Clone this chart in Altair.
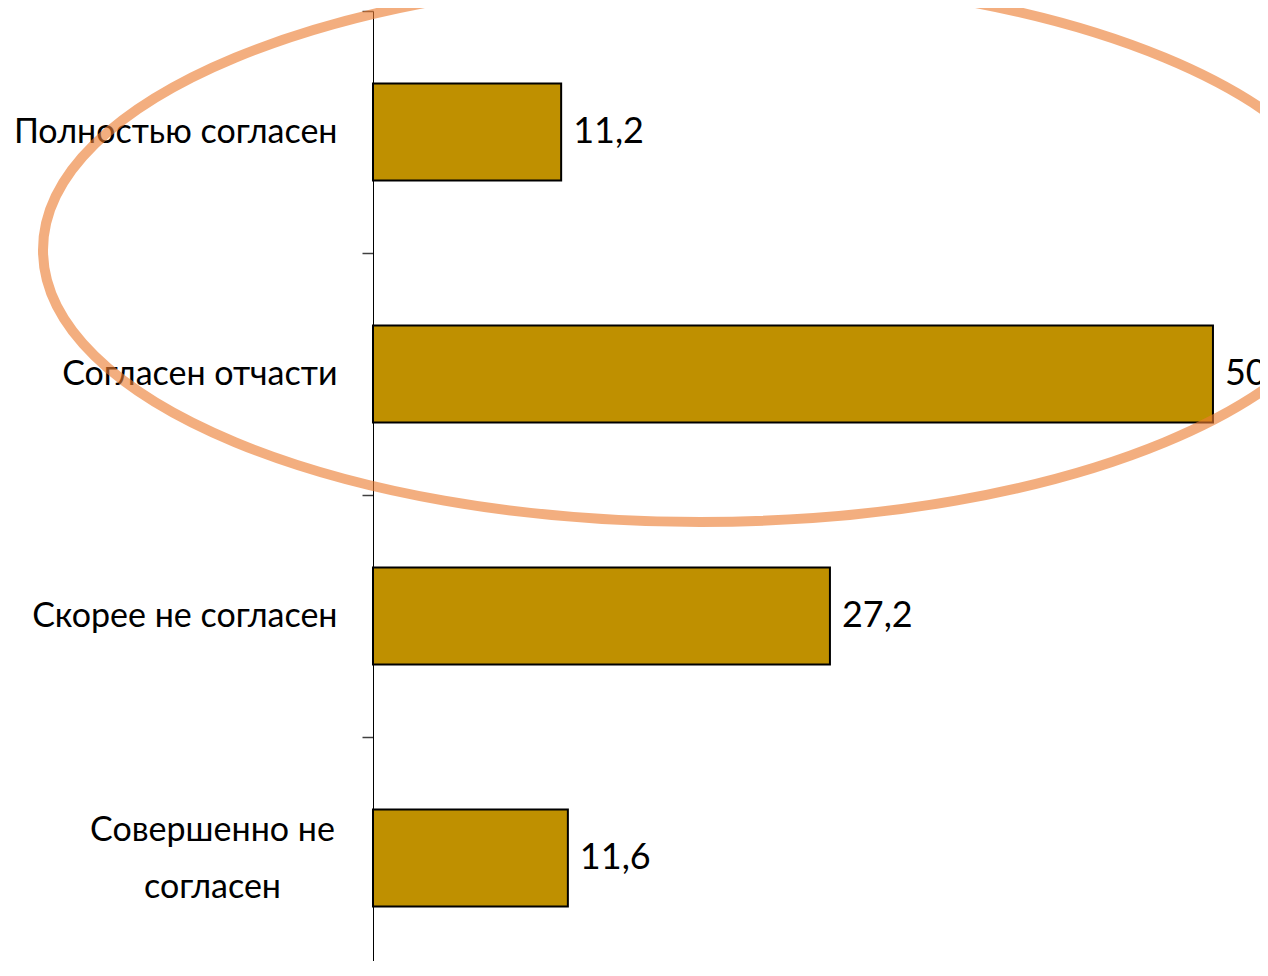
import altair as alt
import pandas as pd

categories = ["Полностью согласен", "Согласен отчасти", "Скорее не согласен", "Совершенно не согласен"]
values = [11.2, 50.0, 27.2, 11.6]
labels = [f"{v:.1f}".replace(".", ",") for v in values]

df = pd.DataFrame({"cat": categories, "val": values, "lab": labels})

FONT = "Lato, sans-serif"
LONG = "Совершенно не согласен"
IS_LONG = f"datum.value == '{LONG}'"

yenc = alt.Y(
    "cat:N",
    sort=categories,
    scale=alt.Scale(paddingInner=0, paddingOuter=0, range=[0, 968]),
    axis=alt.Axis(
        title=None,
        tickBand="extent",
        domainColor="black",
        domainWidth=1,
        tickColor="#404040",
        tickWidth=1.5,
        tickSize=11,
        labelFont=FONT,
        labelFontSize=34,
        labelColor="black",
        labelLimit=400,
        labelLineHeight=57,
        labelAlign=alt.condition(IS_LONG, alt.value("center"), alt.value("right")),
        labelPadding=alt.condition(IS_LONG, alt.value(150), alt.value(25)),
        labelOffset=alt.condition(IS_LONG, alt.value(-28), alt.value(0)),
        labelExpr=f"{IS_LONG} ? ['Совершенно не', 'согласен'] : datum.value",
    ),
)

xscale = alt.Scale(domain=[0, 52.8], nice=False, zero=True)

bars = alt.Chart(df).mark_bar(
    height=alt.RelativeBandSize(0.4),
    color="#BF9000",
    stroke="black",
    strokeWidth=2,
).encode(
    x=alt.X("val:Q", scale=xscale, axis=None),
    y=yenc,
)

text = alt.Chart(df).mark_text(
    align="left", baseline="middle", dx=12, font=FONT, fontSize=36, color="black"
).encode(
    x=alt.X("val:Q", scale=xscale, axis=None),
    y=alt.Y("cat:N", sort=categories),
    text="lab:N",
)

ellipse_path = "M -1 0 A 1 0.414 0 1 1 1 0 A 1 0.414 0 1 1 -1 0 Z"
ellipse = alt.Chart(pd.DataFrame({"k": [0]})).mark_point(
    shape=ellipse_path,
    filled=False,
    stroke="#ED7D31",
    strokeWidth=10,
    opacity=0.62,
).encode(
    x=alt.value(327),
    y=alt.value(239),
    size=alt.value(1314 * 1314),
)

chart = alt.layer(bars, text, ellipse).properties(
    width=887,
    height=950,
    autosize=alt.AutoSizeParams(type="none"),
    padding={"left": 365, "top": 3, "right": 0, "bottom": 0},
).configure_view(stroke=None)

chart.save("out.html", embed_options={"renderer": "svg", "actions": False})
